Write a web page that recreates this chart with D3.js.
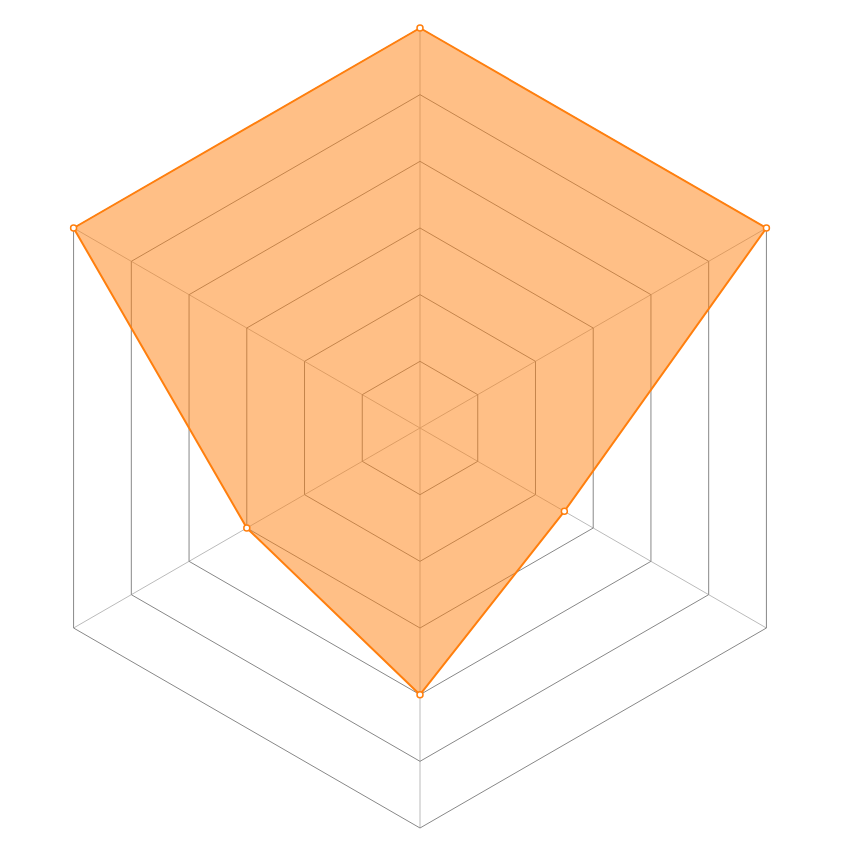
<!DOCTYPE html>
<html>
<head>
<meta charset="utf-8">
<script src="https://cdn.jsdelivr.net/npm/d3@7"></script>
<style>
  body { margin: 0; background: #fff; }
</style>
</head>
<body>
<svg id="radar" width="860" height="860"></svg>
<script>
// axes go clockwise from the top
var axes = ['A', 'B', 'C', 'D', 'E', 'F'];
var values = [6, 6, 2.5, 4, 3, 6];
var levels = [1, 2, 3, 4, 5, 6];

var cx = 420, cy = 428, radius = 400;

var svg = d3.select('#radar');
var g = svg.append('g').attr('transform', 'translate(' + cx + ',' + cy + ')');

var r = d3.scaleLinear().domain([0, 6]).range([0, radius]);
var angle = d3.scaleLinear().domain([0, axes.length]).range([0, 2 * Math.PI]);

var pt = function(i, v) {
  var a = angle(i);
  return [r(v) * Math.sin(a), -r(v) * Math.cos(a)];
};

// spokes
g.selectAll('.spoke')
  .data(axes)
  .enter().append('line')
  .attr('class', 'spoke')
  .attr('x1', 0).attr('y1', 0)
  .attr('x2', function(d, i) { return pt(i, 6)[0]; })
  .attr('y2', function(d, i) { return pt(i, 6)[1]; })
  .attr('stroke', '#bbb')
  .attr('stroke-width', 1);

// rings
var ringLine = d3.line();
g.selectAll('.ring')
  .data(levels)
  .enter().append('path')
  .attr('class', 'ring')
  .attr('d', function(lv) {
    return ringLine(axes.map(function(d, i) { return pt(i, lv); })) + 'Z';
  })
  .attr('fill', 'none')
  .attr('stroke', '#888')
  .attr('stroke-width', 1);

// data area
var area = values.map(function(v, i) { return pt(i, v); });
g.append('path')
  .attr('d', d3.line()(area) + 'Z')
  .attr('fill', '#ff7f0e')
  .attr('fill-opacity', 0.5)
  .attr('stroke', '#ff7f0e')
  .attr('stroke-width', 2)
  .attr('stroke-linejoin', 'round');

g.selectAll('.dot')
  .data(values)
  .enter().append('circle')
  .attr('class', 'dot')
  .attr('cx', function(v, i) { return pt(i, v)[0]; })
  .attr('cy', function(v, i) { return pt(i, v)[1]; })
  .attr('r', 3)
  .attr('fill', '#fff')
  .attr('stroke', '#ff7f0e')
  .attr('stroke-width', 1.5);
</script>
</body>
</html>
